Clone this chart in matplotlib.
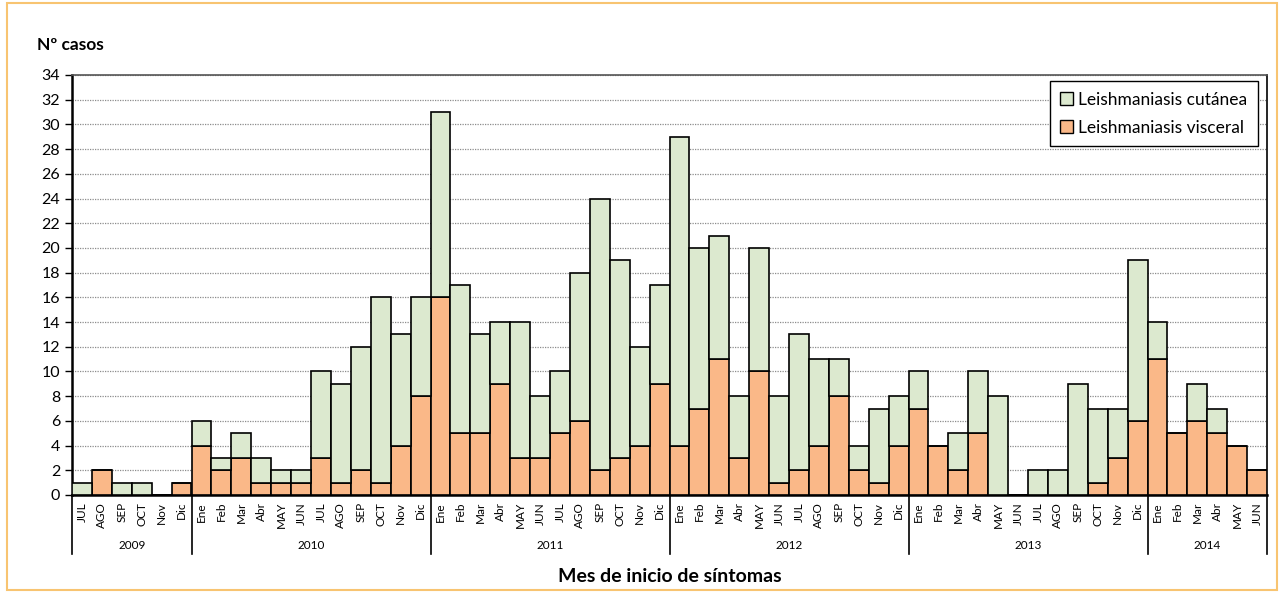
import numpy as np
import matplotlib
matplotlib.use("Agg")
import matplotlib.pyplot as plt
from matplotlib.patches import Patch, Rectangle
from matplotlib.transforms import blended_transform_factory

plt.rcParams["font.family"] = ["Lato", "DejaVu Sans"]

# months Jul 2009 .. Jun 2014
months_2009 = ["JUL", "AGO", "SEP", "OCT", "Nov", "Dic"]
months_full = ["Ene", "Feb", "Mar", "Abr", "MAY", "JUN",
               "JUL", "AGO", "SEP", "OCT", "Nov", "Dic"]
months_2014 = ["Ene", "Feb", "Mar", "Abr", "MAY", "JUN"]
month_labels = months_2009 + months_full * 4 + months_2014

years = ["2009", "2010", "2011", "2012", "2013", "2014"]
year_sizes = [6, 12, 12, 12, 12, 6]

visceral = [0, 2, 0, 0, 0, 1,
            4, 2, 3, 1, 1, 1, 3, 1, 2, 1, 4, 8,
            16, 5, 5, 9, 3, 3, 5, 6, 2, 3, 4, 9,
            4, 7, 11, 3, 10, 1, 2, 4, 8, 2, 1, 4,
            7, 4, 2, 5, 0, 0, 0, 0, 0, 1, 3, 6,
            11, 5, 6, 5, 4, 2]
total = [1, 2, 1, 1, 0, 1,
         6, 3, 5, 3, 2, 2, 10, 9, 12, 16, 13, 16,
         31, 17, 13, 14, 14, 8, 10, 18, 24, 19, 12, 17,
         29, 20, 21, 8, 20, 8, 13, 11, 11, 4, 7, 8,
         10, 4, 5, 10, 8, 0, 2, 2, 9, 7, 7, 19,
         14, 5, 9, 7, 4, 2]
cutanea = [t - v for t, v in zip(total, visceral)]

col_visc = "#FAB888"
col_cut = "#DCE9CF"

fig = plt.figure(figsize=(12.8, 5.93), dpi=100)
ax = fig.add_axes([72 / 1280, 1 - 495 / 593, (1267 - 72) / 1280, (495 - 75) / 593])

x = np.arange(len(month_labels))
ax.bar(x, visceral, width=1.0, color=col_visc, edgecolor="black", linewidth=1.2, zorder=3)
ax.bar(x, cutanea, width=1.0, bottom=visceral, color=col_cut, edgecolor="black",
       linewidth=1.2, zorder=3)

ax.set_xlim(-0.5, len(month_labels) - 0.5)
ax.set_ylim(0, 34)
ax.set_yticks(np.arange(0, 35, 2))
ax.tick_params(axis="y", labelsize=11.5, length=5, width=1, direction="out")
ax.yaxis.grid(True, linestyle=(0, (1, 1)), color="#8c8c8c", linewidth=0.9, zorder=0)

ax.set_xticks(x)
ax.set_xticklabels(month_labels, rotation=90, fontsize=8.5)
ax.tick_params(axis="x", length=0, pad=5)

for s in ["left", "bottom"]:
    ax.spines[s].set_linewidth(1.8)
ax.spines["right"].set_linewidth(1.2)
ax.spines["top"].set_linestyle((0, (1, 1)))
ax.spines["top"].set_color("#555555")
ax.spines["top"].set_linewidth(1.2)

# year groups below month labels
trans = blended_transform_factory(ax.transData, ax.transAxes)
bounds = np.concatenate([[0], np.cumsum(year_sizes)]) - 0.5
for b in bounds:
    ax.plot([b, b], [0, -0.14], transform=trans, color="black", lw=1.2, clip_on=False)
for i, yr in enumerate(years):
    ax.text((bounds[i] + bounds[i + 1]) / 2, -0.12, yr, transform=trans,
            ha="center", va="center", fontsize=8.5)

fig.text(37 / 1280, 1 - 45 / 593, "Nº casos", fontsize=12.5, fontweight="bold",
         ha="left", va="center")
fig.text(670 / 1280, 1 - 576 / 593, "Mes de inicio de síntomas", fontsize=14,
         fontweight="bold", ha="center", va="center")

handles = [Patch(facecolor=col_cut, edgecolor="black", linewidth=1),
           Patch(facecolor=col_visc, edgecolor="black", linewidth=1)]
leg = ax.legend(handles, ["Leishmaniasis cutánea", "Leishmaniasis visceral"],
                loc="upper right", bbox_to_anchor=(0.9925, 0.985), fontsize=12.5,
                frameon=True, fancybox=False, edgecolor="black", framealpha=1,
                handlelength=0.75, handleheight=0.75, handletextpad=0.3,
                labelspacing=0.7, borderpad=0.6, borderaxespad=0)
leg.get_frame().set_linewidth(1.0)
leg.set_zorder(5)

# outer border of the chart area
fig.patches.append(Rectangle((7 / 1280, 3 / 593), 1270 / 1280, 587 / 593,
                             transform=fig.transFigure, fill=False,
                             edgecolor="#F8C471", linewidth=1.5))

fig.savefig("out.png", dpi=100)
